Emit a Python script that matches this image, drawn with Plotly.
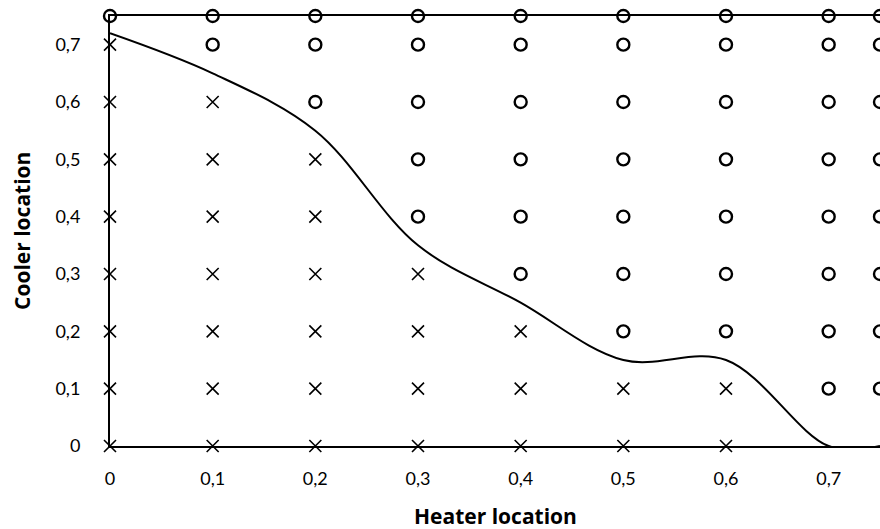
import plotly.graph_objects as go

# Grid classification (Heater location, Cooler location)
cross_x = [0, 0.1, 0.2, 0.3, 0.4, 0.5, 0.6,
           0, 0.1, 0.2, 0.3, 0.4, 0.5, 0.6,
           0, 0.1, 0.2, 0.3, 0.4,
           0, 0.1, 0.2, 0.3,
           0, 0.1, 0.2,
           0, 0.1, 0.2,
           0, 0.1,
           0]
cross_y = [0] * 7 + [0.1] * 7 + [0.2] * 5 + [0.3] * 4 + [0.4] * 3 + [0.5] * 3 + [0.6] * 2 + [0.7]

circle_x = [0.7, 0.75,
            0.5, 0.6, 0.7, 0.75,
            0.4, 0.5, 0.6, 0.7, 0.75,
            0.3, 0.4, 0.5, 0.6, 0.7, 0.75,
            0.3, 0.4, 0.5, 0.6, 0.7, 0.75,
            0.2, 0.3, 0.4, 0.5, 0.6, 0.7, 0.75,
            0.1, 0.2, 0.3, 0.4, 0.5, 0.6, 0.7, 0.75,
            0, 0.1, 0.2, 0.3, 0.4, 0.5, 0.6, 0.7, 0.75]
circle_y = ([0.1] * 2 + [0.2] * 4 + [0.3] * 5 + [0.4] * 6 + [0.5] * 6 +
            [0.6] * 7 + [0.7] * 8 + [0.75] * 9)

# Boundary curve
curve_x = [0, 0.1, 0.2, 0.3, 0.4, 0.5, 0.6, 0.7, 0.75]
curve_y = [0.72, 0.65, 0.55, 0.35, 0.25, 0.15, 0.15, 0, 0]

tick_vals = [0, 0.1, 0.2, 0.3, 0.4, 0.5, 0.6, 0.7]
tick_text = ["0", "0,1", "0,2", "0,3", "0,4", "0,5", "0,6", "0,7"]

x_title = "Heater location"
y_title = "Cooler location"

FONT = "Lato, 'Open Sans', sans-serif"
TFONT = "'Open Sans', Lato, sans-serif"

fig = go.Figure()
fig.add_trace(go.Scatter(
    x=curve_x, y=curve_y, mode="lines",
    line=dict(color="black", width=2, shape="spline", smoothing=1),
    cliponaxis=False, hoverinfo="skip"))
fig.add_trace(go.Scatter(
    x=cross_x, y=cross_y, mode="markers",
    marker=dict(symbol="x-thin-open", size=12, color="black",
                line=dict(color="black", width=1.6)),
    cliponaxis=False))
fig.add_trace(go.Scatter(
    x=circle_x, y=circle_y, mode="markers",
    marker=dict(symbol="circle-open", size=12, color="black",
                line=dict(color="black", width=2.4)),
    cliponaxis=False))

fig.add_annotation(text="<b>" + x_title + "</b>", xref="paper", yref="paper",
                   x=0.5, y=-0.163, xanchor="center", yanchor="middle",
                   showarrow=False,
                   font=dict(family=TFONT, size=21, color="black"))
fig.add_annotation(text="<b>" + y_title + "</b>", xref="paper", yref="paper",
                   x=-0.1143, y=0.5, xanchor="center", yanchor="middle",
                   textangle=-90, showarrow=False,
                   font=dict(family=TFONT, size=21, color="black"))

fig.update_layout(
    width=880, height=529,
    margin=dict(l=110, r=0, t=16, b=83),
    paper_bgcolor="white", plot_bgcolor="white",
    showlegend=False,
    font=dict(family=FONT, size=18, color="black"),
    xaxis=dict(range=[0, 0.75], tickvals=tick_vals, ticktext=tick_text,
               showgrid=False, zeroline=False, showline=True,
               linecolor="black", linewidth=2, mirror=True,
               ticks="", ticklabelstandoff=15),
    yaxis=dict(range=[0, 0.75], tickvals=tick_vals, ticktext=tick_text,
               showgrid=False, zeroline=False, showline=True,
               linecolor="black", linewidth=2,
               ticks="", ticklabelstandoff=24),
)

fig.write_html("out.html")
